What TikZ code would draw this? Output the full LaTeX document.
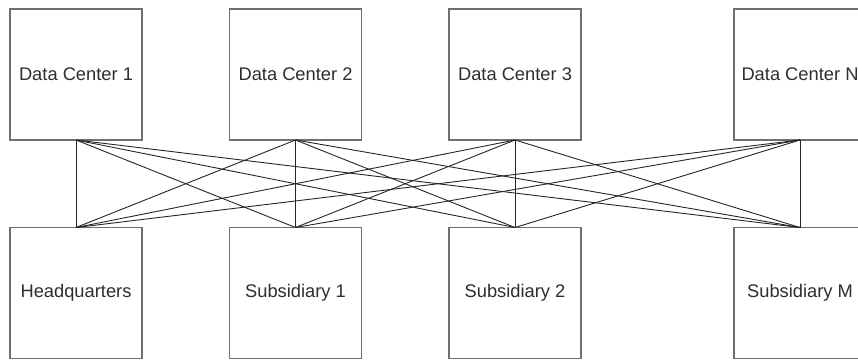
\documentclass[tikz,border=0pt]{standalone}
\usepackage{fontspec}
\setmainfont{Liberation Sans}
\definecolor{boxline}{HTML}{707070}
\definecolor{linkline}{HTML}{262626}
\definecolor{labeltext}{HTML}{2E2E2E}
\begin{document}
\begin{tikzpicture}[x=1pt,y=-1pt,
  site/.style={draw=boxline,line width=1.4pt,fill=white,rectangle,
    minimum width=132pt,minimum height=131pt,inner sep=0pt,outer sep=0pt,
    font=\fontsize{18.3}{22}\selectfont,text=labeltext},
  link/.style={draw=linkline,line width=0.9pt}]
\useasboundingbox (0,0) rectangle (858,359);
% data centers (top row)
\node[site] (dc1) at (76,74.5)  {Data Center 1};
\node[site] (dc2) at (295.5,74.5) {Data Center 2};
\node[site] (dc3) at (515,74.5) {Data Center 3};
\node[site] (dcn) at (800,74.5) {Data Center N};
% offices (bottom row)
\node[site] (hq) at (76,293)   {Headquarters};
\node[site] (s1) at (295.5,293) {Subsidiary 1};
\node[site] (s2) at (515,293)  {Subsidiary 2};
\node[site] (sm) at (800,293)  {Subsidiary M};
% full mesh between every data center and every office
\foreach \d in {dc1,dc2,dc3,dcn}
  \foreach \o in {hq,s1,s2,sm}
    \draw[link] (\d.south) -- (\o.north);
\end{tikzpicture}
\end{document}
